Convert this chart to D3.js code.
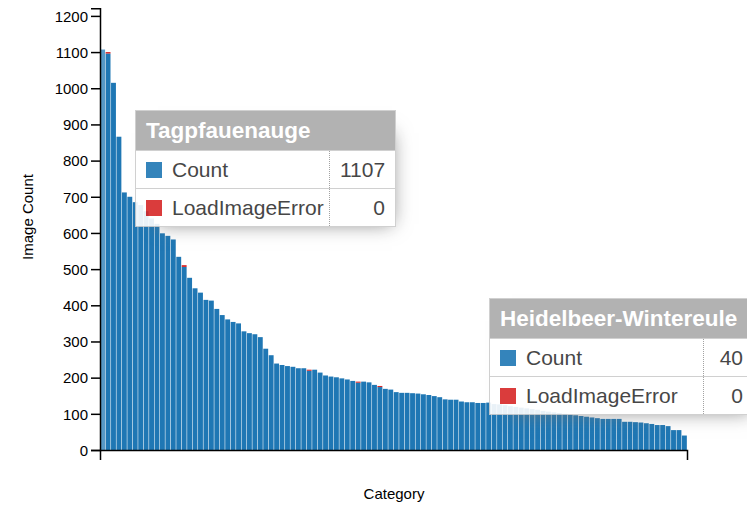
<!DOCTYPE html>
<html>
<head>
<meta charset="utf-8">
<style>
  body { margin: 0; background: #fff; overflow: hidden; }
  #main { position: relative; width: 747px; height: 505px; overflow: hidden; }
  svg { position: absolute; left: 0; top: 0; font-family: "Liberation Sans", Arial, sans-serif; }
  .axis path, .axis line { stroke: #000; stroke-width: 1.5; }
  .axis text { font-size: 15px; fill: #000; }
  .tip { position: absolute; opacity: 0.9; box-shadow: 10px 10px 18px -13px #777; font-family: "Liberation Sans", Arial, sans-serif; }
  .tip table { border-collapse: collapse; border-spacing: 0; background: #fff; width: 100%; table-layout: fixed; }
  .tip tr { border: 1px solid #ccc; }
  .tip th { background: #aaa; color: #fff; font-size: 22.5px; font-weight: bold; text-align: left; padding: 0 10px; height: 39px; white-space: nowrap; }
  .tip td { font-size: 21px; color: #333; padding: 0 10px; height: 38px; background: #fff; white-space: nowrap; box-sizing: border-box; }
  .tip td.value { border-left: 1px dotted #999; text-align: right; }
  .tip .sw { display: inline-block; width: 16px; height: 16px; margin-right: 10px; vertical-align: -1px; }
</style>
</head>
<body>
<div id="main">
  <svg width="747" height="505"></svg>
</div>
<script src="https://cdn.jsdelivr.net/npm/d3@7"></script>
<script>
  // image counts per category, sorted descending
  var counts = [1107, 1096, 1015, 866, 712, 700, 685, 677, 660, 640,
    625, 599, 592, 582, 534, 506, 476, 447, 435, 415,
    413, 390, 373, 361, 354, 350, 328, 323, 320, 312,
    280, 262, 239, 235, 232, 230, 226, 226, 219, 222,
    214, 206, 203, 201, 198, 195, 191, 186, 189, 187,
    180, 174, 169, 167, 160, 158, 158, 157, 156, 154,
    152, 149, 146, 140, 139, 139, 134, 132, 132, 130,
    130, 131, 127, 126, 124, 121, 119, 117, 115, 113,
    111, 108, 106, 104, 102, 100, 98, 96, 94, 92,
    90, 88, 86, 86, 86, 86, 78, 78, 77, 76,
    74, 72, 69, 69, 66, 55, 55, 40];

  // load errors (only a few non-zero)
  var errorIdx = [1, 15, 38, 47, 51];
  var errorVal = [4, 5, 3, 3, 3];

  var seriesNames = ["Count", "LoadImageError"];
  var seriesColors = ["#1f77b4", "#d62728"];
  var yTicks = [0, 100, 200, 300, 400, 500, 600, 700, 800, 900, 1000, 1100, 1200];

  var firstName = "Tagpfauenauge", lastName = "Heidelbeer-Wintereule";

  var data = counts.map(function (c, i) {
    var k = errorIdx.indexOf(i);
    var name = i === 0 ? firstName : (i === counts.length - 1 ? lastName : "cat" + i);
    return { cat: name, Count: c, LoadImageError: k >= 0 ? errorVal[k] : 0 };
  });

  var svg = d3.select("svg");

  var x = d3.scaleBand()
    .domain(data.map(function (d) { return d.cat; }))
    .range([100, 687])
    .paddingInner(0.1)
    .paddingOuter(0.03);

  var y = d3.scaleLinear()
    .domain([0, 1221])
    .range([450, 8.3]);

  var z = d3.scaleOrdinal().domain(seriesNames).range(seriesColors);

  var stacked = d3.stack().keys(seriesNames)(data);

  svg.append("g")
    .selectAll("g")
    .data(stacked)
    .enter().append("g")
    .attr("fill", function (d) { return z(d.key); })
    .selectAll("rect")
    .data(function (d) { return d; })
    .enter().append("rect")
    .attr("x", function (d) { return x(d.data.cat); })
    .attr("y", function (d) { return y(d[1]); })
    .attr("height", function (d) { return y(d[0]) - y(d[1]); })
    .attr("width", x.bandwidth())
    .attr("fill-opacity", function (d) { return d.data.cat === firstName ? 0.75 : 1; });

  // axes
  svg.append("g")
    .attr("class", "axis")
    .attr("transform", "translate(100,0)")
    .call(d3.axisLeft(y).tickValues(yTicks).tickFormat(d3.format("d"))
      .tickSize(9).tickSizeOuter(9).tickPadding(3))
    .call(function (g) { g.selectAll("text").attr("dy", "0.35em"); });

  svg.append("g")
    .attr("class", "axis")
    .attr("transform", "translate(0,450)")
    .call(d3.axisBottom(x).tickValues([]).tickSizeOuter(10));

  // axis titles
  svg.append("text")
    .attr("transform", "translate(33,217) rotate(-90)")
    .attr("text-anchor", "middle")
    .attr("font-size", "15px")
    .text("Image Count");

  svg.append("text")
    .attr("x", 394)
    .attr("y", 499)
    .attr("text-anchor", "middle")
    .attr("font-size", "15px")
    .text("Category");

  // tooltips
  function tooltip(d, left, top, nameW, valW) {
    var tip = d3.select("#main").append("div")
      .attr("class", "tip")
      .style("left", left + "px")
      .style("top", top + "px")
      .style("width", (nameW + valW) + "px");
    var t = tip.append("table");
    var cg = t.append("colgroup");
    cg.append("col").style("width", nameW + "px");
    cg.append("col").style("width", valW + "px");
    t.append("tr").append("th").attr("colspan", 2).text(d.cat);
    seriesNames.forEach(function (s) {
      var tr = t.append("tr");
      var td = tr.append("td");
      td.append("span").attr("class", "sw").style("background", z(s));
      td.append("span").text(s);
      tr.append("td").attr("class", "value").text(d[s]);
    });
  }

  tooltip(data[0], 135, 110, 194, 66);
  tooltip(data[data.length - 1], 489, 298, 214, 50);
</script>
</body>
</html>
